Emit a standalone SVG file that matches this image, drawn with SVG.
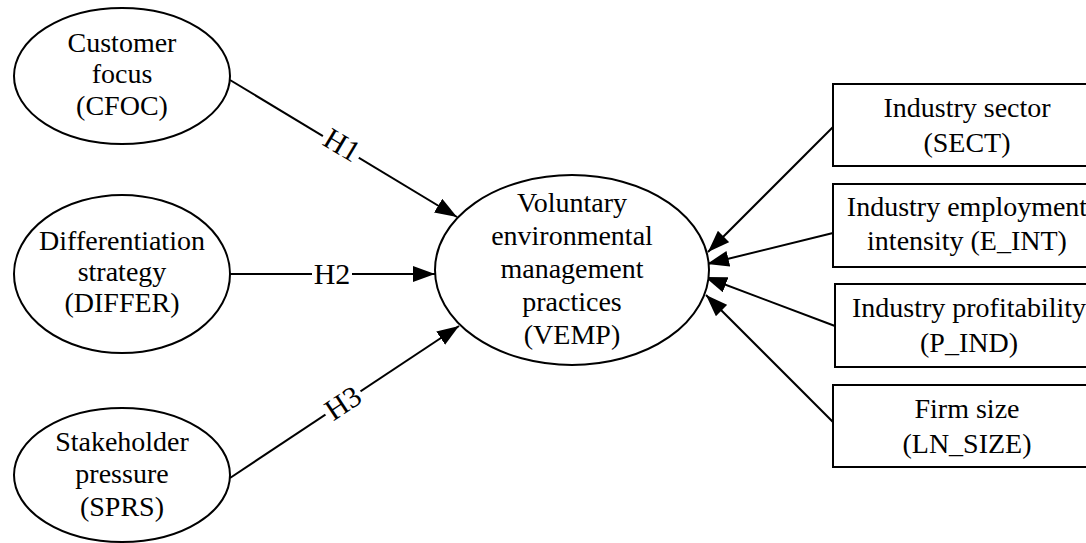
<svg xmlns="http://www.w3.org/2000/svg" width="1086" height="543" viewBox="0 0 1086 543">
<defs>
<style>
.shape{fill:#fff;stroke:#000;stroke-width:2}
.t{font-family:"Liberation Serif","Times New Roman",serif;font-size:28px;fill:#000;text-anchor:middle}
.lbl{font-family:"Liberation Serif","Times New Roman",serif;font-size:30px;fill:#000;text-anchor:middle}
.edge{stroke:#000;stroke-width:2;fill:none}
.lblbg{fill:#fff;stroke:none}
</style>
<marker id="arr" markerUnits="userSpaceOnUse" markerWidth="22" markerHeight="16" viewBox="0 0 22 16" refX="22" refY="8" orient="auto">
<path d="M0,0 L22,8 L0,16 z" fill="#000"/>
</marker>
</defs>
<rect width="1086" height="543" fill="#fff"/>
<g id="connectors">
<path class="edge" d="M230,80 L457,217" marker-end="url(#arr)"/>
<path class="edge" d="M230,274 L435,274" marker-end="url(#arr)"/>
<path class="edge" d="M230,478 L459,326" marker-end="url(#arr)"/>
<path class="edge" d="M833,127 L708,252" marker-end="url(#arr)"/>
<path class="edge" d="M833,233 L707,264" marker-end="url(#arr)"/>
<path class="edge" d="M835,326 L705,277" marker-end="url(#arr)"/>
<path class="edge" d="M833,422 L706,295" marker-end="url(#arr)"/>
<g transform="translate(342,145) rotate(31)">
<rect class="lblbg" x="-21" y="-12" width="42" height="24"/>
<text class="lbl" x="0" y="10">H1</text>
</g>
<g transform="translate(332,274)">
<rect class="lblbg" x="-20" y="-12" width="40" height="24"/>
<text class="lbl" x="0" y="10">H2</text>
</g>
<g transform="translate(343,403) rotate(-33.6)">
<rect class="lblbg" x="-21" y="-12" width="42" height="24"/>
<text class="lbl" x="0" y="10">H3</text>
</g>
</g>
<g id="CFOC">
<ellipse class="shape" cx="122" cy="76" rx="108" ry="68"/>
<text class="t" x="122" y="52">Customer</text>
<text class="t" x="122" y="83">focus</text>
<text class="t" x="122" y="115">(CFOC)</text>
</g>
<g id="DIFFER">
<ellipse class="shape" cx="122" cy="274" rx="108" ry="79"/>
<text class="t" x="122" y="250">Differentiation</text>
<text class="t" x="122" y="281">strategy</text>
<text class="t" x="122" y="312">(DIFFER)</text>
</g>
<g id="SPRS">
<ellipse class="shape" cx="122" cy="475" rx="108" ry="67"/>
<text class="t" x="122" y="451">Stakeholder</text>
<text class="t" x="122" y="483">pressure</text>
<text class="t" x="122" y="516">(SPRS)</text>
</g>
<g id="VEMP">
<ellipse class="shape" cx="572" cy="270" rx="137" ry="95"/>
<text class="t" x="572" y="212">Voluntary</text>
<text class="t" x="572" y="245">environmental</text>
<text class="t" x="572" y="278">management</text>
<text class="t" x="572" y="311">practices</text>
<text class="t" x="572" y="344">(VEMP)</text>
</g>
<g id="SECT">
<rect class="shape" x="833" y="84" width="270" height="82"/>
<text class="t" x="967" y="117">Industry sector</text>
<text class="t" x="967" y="152">(SECT)</text>
</g>
<g id="E_INT">
<rect class="shape" x="833" y="184" width="270" height="83"/>
<text class="t" x="967" y="216">Industry employment</text>
<text class="t" x="967" y="250">intensity (E_INT)</text>
</g>
<g id="P_IND">
<rect class="shape" x="835" y="284" width="270" height="83"/>
<text class="t" x="969" y="317">Industry profitability</text>
<text class="t" x="969" y="352">(P_IND)</text>
</g>
<g id="LN_SIZE">
<rect class="shape" x="833" y="385" width="270" height="82"/>
<text class="t" x="967" y="418">Firm size</text>
<text class="t" x="967" y="453">(LN_SIZE)</text>
</g>
</svg>
